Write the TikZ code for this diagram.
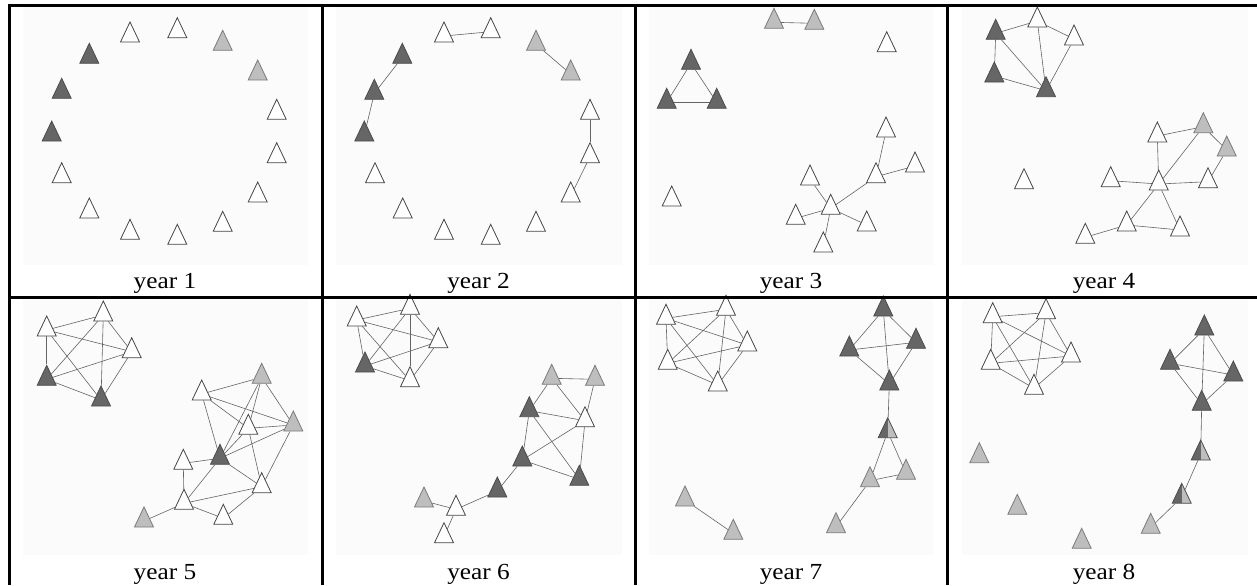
\documentclass[tikz,border=0pt]{standalone}
\usepackage{fontspec}
\setmainfont{Liberation Serif}
\usetikzlibrary{shapes.geometric}
\definecolor{paneltint}{RGB}{251,251,251}
\definecolor{darkvertex}{RGB}{102,102,102}
\definecolor{lightvertex}{RGB}{190,190,190}
\definecolor{rimgray}{RGB}{70,70,70}
\definecolor{linkgray}{RGB}{100,100,100}
\pgfdeclarelayer{panel}
\pgfdeclarelayer{links}
\pgfsetlayers{panel,links,main}
\tikzset{
  tri/.style={isosceles triangle, isosceles triangle stretches,
              shape border rotate=90, minimum width=9.5pt,
              minimum height=10pt, inner sep=0pt,
              draw=rimgray, line width=0.4pt},
  wtri/.style={tri, fill=white},
  ltri/.style={tri, fill=lightvertex, draw=lightvertex!65!black},
  dtri/.style={tri, fill=darkvertex, draw=darkvertex!75!black},
  htri/.style={tri, fill=lightvertex, draw=darkvertex!75!black,
               path picture={\fill[darkvertex]
                 (path picture bounding box.south west) rectangle
                 (path picture bounding box.north);}},
  link/.style={draw=linkgray, line width=0.3pt},
  yearlabel/.style={anchor=base, inner sep=0pt,
                    font=\fontsize{11.5}{14}\selectfont},
  rule/.style={line width=1.5pt}
}

\begin{document}
\begin{tikzpicture}[x=0.5pt, y=-0.5pt]
    \useasboundingbox (0,0) rectangle (1257,585);
    % panel backgrounds
    \begin{pgfonlayer}{panel}
    \foreach \xa/\xb in {23/308, 336/622, 649/933, 962/1248} {
        \fill[paneltint] (\xa,6) rectangle (\xb,265);
        \fill[paneltint] (\xa,298) rectangle (\xb,555);
    }
    \end{pgfonlayer}

    % year 1
    \foreach \n/\x/\y/\s in {1/130/36/wtri, 2/177.3/31.7/wtri,
        3/222.7/44.3/ltri, 4/257.7/74/ltri, 5/276.7/113.3/wtri,
        6/276.7/156.7/wtri, 7/257.7/196/wtri, 8/222.7/225.3/wtri,
        9/177.3/238.3/wtri, 10/130/233.3/wtri, 11/89.3/212/wtri,
        12/61.7/176.7/wtri, 13/51.7/135/dtri, 14/61.7/92.3/dtri,
        15/89.3/57.3/dtri}
        \node[\s] (a\n) at (\x,\y) {};

    % year 2
    \foreach \n/\x/\y/\s in {1/444/36/wtri, 2/490.7/31.7/wtri,
        3/536/44.3/ltri, 4/570.7/74/ltri, 5/590/113.3/wtri,
        6/590/156.7/wtri, 7/570.7/196/wtri, 8/536/225.3/wtri,
        9/490.7/238.3/wtri, 10/444/233.3/wtri, 11/402.7/212/wtri,
        12/375/176.7/wtri, 13/364.3/135/dtri, 14/374.3/93.3/dtri,
        15/402.3/57.3/dtri}
        \node[\s] (b\n) at (\x,\y) {};
    \begin{pgfonlayer}{links}
    \foreach \u/\v in {1/2, 3/4, 5/6, 6/7, 13/14, 14/15}
        \draw[link] (b\u) -- (b\v);
    \end{pgfonlayer}

    % year 3
    \foreach \n/\x/\y/\s in {1/774/22.3/ltri, 2/814.3/23.3/ltri,
        3/886.7/45.7/wtri, 4/691/63.3/dtri, 5/666.7/102.3/dtri,
        6/716.7/102.3/dtri, 7/671.7/200/wtri, 8/886/131/wtri,
        9/876/176.7/wtri, 10/915/166/wtri, 11/810/179/wtri,
        12/830.7/208.3/wtri, 13/795.7/218.3/wtri, 14/866.7/225/wtri,
        15/823.3/246/wtri}
        \node[\s] (c\n) at (\x,\y) {};
    \begin{pgfonlayer}{links}
    \foreach \u/\v in {1/2, 4/5, 4/6, 5/6, 12/11, 12/13, 12/14, 12/15,
                       12/9, 9/8, 9/10}
        \draw[link] (c\u) -- (c\v);
    \end{pgfonlayer}

    % year 4
    \foreach \n/\x/\y/\s in {1/995.7/33.3/dtri, 2/1037.3/21/wtri,
        3/1074/39/wtri, 4/994.3/76/dtri, 5/1046/90.7/dtri,
        6/1024/182.7/wtri, 7/1157.3/136/wtri, 8/1203.3/126.7/ltri,
        9/1226.7/150/ltri, 10/1110.7/180.7/wtri, 11/1158.7/184/wtri,
        12/1208/181.7/wtri, 13/1126.7/225/wtri, 14/1180/230/wtri,
        15/1085.3/237.3/wtri}
        \node[\s] (d\n) at (\x,\y) {};
    \begin{pgfonlayer}{links}
    \foreach \u/\v in {1/2, 2/3, 1/4, 1/5, 2/5, 3/5, 4/5, 7/8, 7/11,
                       8/9, 8/11, 9/12, 11/10, 11/12, 11/13, 11/14,
                       13/14, 13/15}
        \draw[link] (d\u) -- (d\v);
    \end{pgfonlayer}

    % year 5
    \foreach \n/\x/\y/\s in {1/46.7/330/wtri, 2/103.3/315/wtri,
        3/131.7/351.7/wtri, 4/46.7/379.3/dtri, 5/101/400/dtri,
        6/201.7/394/wtri, 7/261.7/377.3/ltri, 8/293.3/425/ltri,
        9/248.3/428.3/wtri, 10/183.3/463.3/wtri, 11/220/458.3/dtri,
        12/261.7/486.7/wtri, 13/184/503.3/wtri, 14/223.3/518.3/wtri,
        15/144/521/ltri}
        \node[\s] (e\n) at (\x,\y) {};
    \begin{pgfonlayer}{links}
    \foreach \u/\v in {1/2, 1/3, 1/4, 1/5, 2/3, 2/4, 2/5, 3/4, 3/5, 4/5,
                       6/7, 6/8, 6/9, 6/11, 7/8, 7/11, 7/9, 9/8, 11/8,
                       9/11, 9/12, 8/12, 11/10, 11/12, 11/13, 10/13,
                       13/12, 13/14, 14/12, 13/15}
        \draw[link] (e\u) -- (e\v);
    \end{pgfonlayer}

    % year 6
    \foreach \n/\x/\y/\s in {1/356.7/320/wtri, 2/410/308.3/wtri,
        3/438.3/341.7/wtri, 4/365/366/dtri, 5/410/380.7/wtri,
        6/551.7/378.3/ltri, 7/595/379.3/ltri, 8/529.3/410.7/dtri,
        9/585/420.7/wtri, 10/522.3/460/dtri, 11/579.3/479.3/dtri,
        12/497.3/491/dtri, 13/424/501/ltri, 14/456/509.3/wtri,
        15/444/536.7/wtri}
        \node[\s] (f\n) at (\x,\y) {};
    \begin{pgfonlayer}{links}
    \foreach \u/\v in {1/2, 1/3, 1/4, 1/5, 2/3, 2/4, 2/5, 3/4, 3/5, 4/5,
                       6/7, 6/8, 6/9, 7/9, 8/9, 8/10, 8/11, 9/10, 9/11,
                       10/11, 10/12, 12/14, 14/13, 14/15}
        \draw[link] (f\u) -- (f\v);
    \end{pgfonlayer}

    % year 7
    \foreach \n/\x/\y/\s in {1/666/318.3/wtri, 2/726/309.3/wtri,
        3/747.3/345/wtri, 4/667.7/363.3/wtri, 5/717.7/385/wtri,
        6/883.3/310/dtri, 7/849.3/350/dtri, 8/916/342.3/dtri,
        9/889.3/384/dtri, 10/887.7/431.7/htri, 11/906/473.3/ltri,
        12/870/480.7/ltri, 13/836/526.7/ltri, 14/685/500/ltri,
        15/733.3/533.3/ltri}
        \node[\s] (g\n) at (\x,\y) {};
    \begin{pgfonlayer}{links}
    \foreach \u/\v in {1/2, 1/3, 1/4, 1/5, 2/3, 2/4, 2/5, 3/4, 3/5, 4/5,
                       6/7, 6/8, 6/9, 7/8, 7/9, 8/9, 9/10, 10/11, 10/12,
                       12/11, 12/13, 14/15}
        \draw[link] (g\u) -- (g\v);
    \end{pgfonlayer}

    % year 8
    \foreach \n/\x/\y/\s in {1/992.7/316.7/wtri, 2/1046/312.7/wtri,
        3/1071/356/wtri, 4/990.7/363.3/wtri, 5/1034/388.3/wtri,
        6/1204.3/329/dtri, 7/1170/363.3/dtri, 8/1233.3/375/dtri,
        9/1201.7/404.3/dtri, 10/1200.7/454/htri, 11/1181.7/497.3/htri,
        12/1150.7/527.3/ltri, 13/979.3/456.7/ltri, 14/1017.3/508.3/ltri,
        15/1081.7/542.3/ltri}
        \node[\s] (h\n) at (\x,\y) {};
    \begin{pgfonlayer}{links}
    \foreach \u/\v in {1/2, 1/3, 1/4, 1/5, 2/3, 2/4, 2/5, 3/4, 3/5, 4/5,
                       6/7, 6/8, 6/9, 7/8, 7/9, 8/9, 9/10, 10/11, 11/12}
        \draw[link] (h\u) -- (h\v);
    \end{pgfonlayer}

    % captions
    \foreach \k/\x/\y in {1/165/288.5, 2/478.5/288.5, 3/791/288.5,
                          4/1104/288.5, 5/165/579, 6/478.5/579,
                          7/791/579, 8/1104/579}
        \node[yearlabel] (t\k) at (\x,\y) {\scalebox{1.1}[1]{year \k}};

    % table rules
    \draw[rule] (9.5,585) -- (9.5,5.5) -- (1257,5.5);
    \draw[rule] (9.5,297.5) -- (1257,297.5);
    \foreach \x in {322, 635, 947}
        \draw[rule] (\x,5.5) -- (\x,585);
\end{tikzpicture}
\end{document}
